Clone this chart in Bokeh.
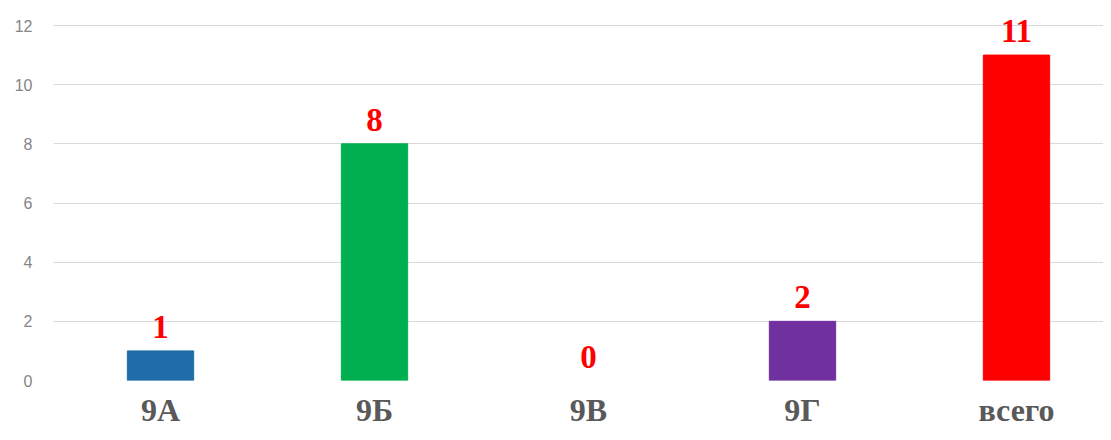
from bokeh.plotting import figure
from bokeh.models import ColumnDataSource, Range1d, FixedTicker
from bokeh.core.properties import value
from bokeh.embed import file_html
from bokeh.resources import INLINE

categories = ["9А", "9Б", "9В", "9Г", "всего"]
counts = [1, 8, 0, 2, 11]
bar_colors = ["#1f6ca8", "#00b050", "#ffffff", "#7030a0", "#ff0000"]
y_ticks = [0, 2, 4, 6, 8, 10, 12]

xs = list(range(len(categories)))
source = ColumnDataSource(dict(
    x=xs,
    top=counts,
    color=bar_colors,
    label=[str(v) for v in counts],
))

p = figure(width=1103, height=432, output_backend="svg", toolbar_location=None,
           x_range=Range1d(-0.5, -0.5 + 1050 / 214),
           y_range=Range1d(0, 12 + 25 / 29.58),
           min_border_left=53, min_border_right=0, min_border_top=0,
           min_border_bottom=52)

p.vbar(x="x", top="top", width=0.31, bottom=0, color="color", source=source)
p.text(x="x", y="top", text="label", source=source,
       text_font=value("Liberation Serif"), text_font_style="bold",
       text_font_size="33px", text_color="#ff0000",
       text_align="center", text_baseline="alphabetic", y_offset=-24)

p.outline_line_color = None
p.xgrid.grid_line_color = None
p.ygrid.grid_line_color = "#d9d9d9"
p.ygrid.grid_line_width = 1.2

p.yaxis.ticker = FixedTicker(ticks=y_ticks)
p.yaxis.axis_line_color = None
p.yaxis.major_tick_line_color = None
p.yaxis.minor_tick_line_color = None
p.yaxis.major_label_text_color = "#858585"
p.yaxis.major_label_text_font = "Liberation Sans"
p.yaxis.major_label_text_font_size = "16px"
p.yaxis.major_label_standoff = 15

p.xaxis.ticker = FixedTicker(ticks=xs)
p.xaxis.major_label_overrides = {i: c for i, c in enumerate(categories)}
p.xaxis.axis_line_color = None
p.xaxis.major_tick_line_color = None
p.xaxis.minor_tick_line_color = None
p.xaxis.major_label_text_color = "#595959"
p.xaxis.major_label_text_font = "Liberation Serif"
p.xaxis.major_label_text_font_style = "bold"
p.xaxis.major_label_text_font_size = "32px"
p.xaxis.major_label_standoff = 5

open("out.html", "w").write(file_html(p, INLINE))
